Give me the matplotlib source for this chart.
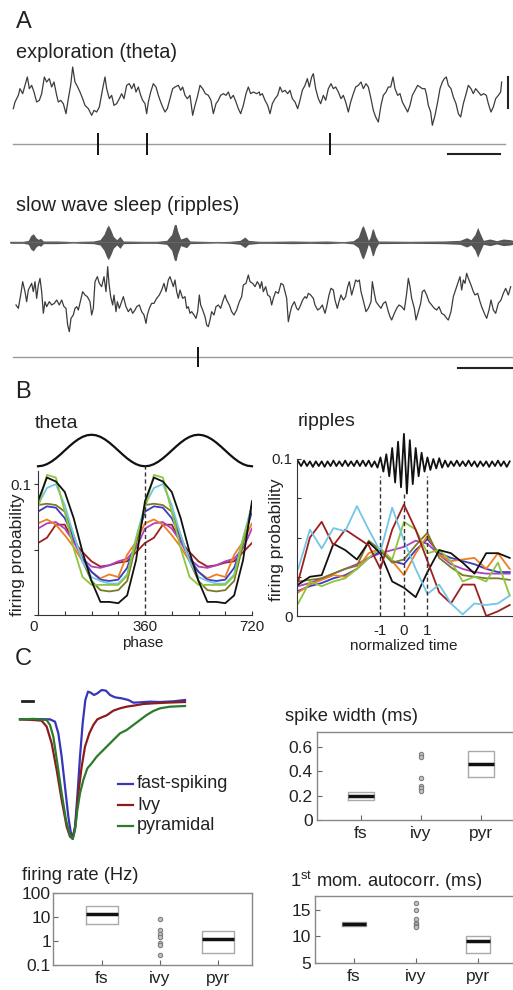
import numpy as np
import matplotlib
matplotlib.use("Agg")
import matplotlib.pyplot as plt

plt.rcParams['font.family'] = ['Liberation Sans', 'DejaVu Sans']
plt.rcParams['mathtext.default'] = 'regular'
TXT = '#222222'

# ===================== DATA =====================
# ---- Panel A: exploration LFP (sample, inverted amplitude reading) ----
explore_seg1 = [(10,140),(15,120),(25,100),(30,80),(38,95),(45,70),(52,45),(58,80),(65,70),(72,90),(80,120),(88,115),(95,95),(103,45),(110,60),(118,50),(125,75),(132,60),(140,100),(145,120),(152,115),(160,125),(168,155),(175,110),(182,70),(188,15),(195,60),(203,75),(210,90),(218,110),(225,130),(235,140),(245,160),(252,145),(260,150),(268,135),(278,80),(285,45),(290,80),(298,110),(305,100),(312,130),(320,125),(328,110),(335,95),(342,110),(350,70),(358,65),(365,80),(372,65),(378,90),(385,75),(392,100),(398,115),(405,125),(410,155),(415,120),(422,90),(430,65),(438,75),(445,100),(452,120),(458,135),(465,150),(472,140),(480,110),(488,80),(495,75),(505,70),(512,85),(518,75),(525,100),(532,110),(540,100),(548,160),(555,130),(562,105),(570,70),(578,80),(586,95),(595,100),(603,115),(610,155),(618,125),(625,115),(632,100),(640,95),(648,100),(655,90),(662,110),(670,100),(678,120),(685,140),(692,155),(700,130),(708,95),(715,75),(722,95),(730,90),(740,95),(748,90)]
explore_seg2 = [(15,100),(22,95),(30,115),(38,130),(45,155),(52,125),(60,110),(68,100),(75,75),(82,90),(90,85),(98,95),(105,85),(112,110),(120,120),(128,140),(135,115),(142,85),(150,70),(157,50),(163,75),(170,45),(175,35),(182,80),(190,110),(197,125),(205,100),(212,115),(220,80),(228,65),(235,80),(242,75),(250,90),(258,110),(265,100),(272,120),(280,150),(287,120),(295,95),(302,75),(310,70),(318,60),(325,80),(333,65),(340,75),(348,110),(355,145),(362,165),(370,180),(378,130),(385,100),(393,90),(400,75),(407,75),(414,45),(420,80),(428,100),(435,95),(442,120),(450,135),(458,150),(465,130),(472,100),(480,85),(488,70),(495,75),(502,80),(510,80),(515,100),(520,130),(527,150),(532,190),(540,160),(548,120),(555,80),(562,60),(568,50),(574,45),(580,70),(588,80),(595,105),(603,125),(610,155),(617,165),(625,125),(632,100),(640,70),(648,80),(655,95),(662,80),(670,90),(678,100),(686,95),(694,100),(700,125),(708,150),(715,135),(722,110),(730,100),(737,90),(740,60)]
SEG2_OFFSET = 735
explore_spikes = [264, 411, 960]

# ---- Panel A: sleep, ripple-band envelope and wideband LFP ----
ripple_env_seg1 = [(0,3),(40,3),(55,6),(62,20),(70,26),(78,14),(85,9),(92,12),(100,4),(140,4),(170,3),(190,2),(210,3),(250,4),(270,8),(282,24),(290,44),(295,52),(302,38),(310,18),(320,8),(330,18),(340,4),(400,3),(440,3),(470,6),(485,24),(492,50),(497,60),(503,34),(512,10),(530,16),(540,4),(580,3),(620,2),(660,3),(690,6),(705,16),(715,6),(748,3)]
ripple_env_seg2 = [(45,3),(115,4),(165,3),(215,4),(265,2),(295,5),(310,16),(320,45),(325,50),(333,28),(340,6),(345,14),(352,40),(355,40),(362,18),(370,4),(465,3),(565,4),(615,6),(635,14),(648,8),(660,24),(668,45),(675,28),(685,6),(705,10),(725,5),(745,10),(765,8),(774,6)]
sleep_wide_seg1 = [(18,240),(25,250),(32,210),(38,170),(45,200),(50,230),(55,195),(60,185),(65,175),(70,200),(75,170),(80,220),(85,180),(90,160),(95,200),(100,265),(105,230),(110,245),(118,230),(125,240),(133,235),(140,225),(148,240),(155,225),(162,245),(168,250),(173,300),(178,320),(183,280),(190,270),(195,250),(200,245),(205,255),(212,225),(218,200),(225,210),(232,215),(240,230),(245,270),(250,250),(255,170),(262,155),(268,175),(275,185),(282,155),(288,200),(293,125),(297,175),(302,215),(308,240),(312,210),(318,260),(322,230),(328,250),(335,230),(340,215),(348,245),(355,260),(362,250),(368,265),(375,255),(380,245),(388,240),(395,260),(402,270),(408,295),(412,270),(418,250),(425,235),(432,235),(440,220),(448,210),(455,195),(462,175),(468,200),(475,165),(480,155),(485,170),(490,185),(495,165),(500,200),(505,220),(510,195),(518,220),(525,215),(530,250),(535,245),(540,265),(545,260),(552,270),(558,280),(563,260),(568,210),(572,240),(578,255),(585,275),(590,300),(595,305),(600,285),(605,260),(612,270),(618,245),(625,240),(632,250),(638,230),(645,210),(650,225),(658,240),(665,260),(672,270),(680,255),(688,230),(695,215),(700,180),(708,175),(715,150),(720,170),(728,175),(735,185),(742,170),(748,180)]
sleep_wide_seg2 = [(15,190),(20,170),(25,200),(32,185),(38,210),(45,215),(50,240),(55,220),(62,200),(70,205),(78,175),(85,180),(90,200),(95,220),(100,290),(105,265),(110,245),(118,230),(125,250),(130,255),(137,240),(143,225),(150,215),(155,220),(160,205),(167,210),(175,220),(180,240),(188,255),(195,250),(202,240),(210,265),(215,245),(222,210),(228,190),(235,195),(240,225),(247,250),(252,230),(258,210),(265,225),(272,215),(278,185),(283,170),(290,210),(297,185),(302,165),(308,170),(313,165),(318,200),(322,215),(328,240),(333,260),(340,250),(348,230),(352,170),(358,205),(363,230),(370,240),(378,250),(385,235),(392,230),(400,260),(405,275),(410,285),(418,265),(425,250),(432,240),(440,245),(448,255),(455,205),(460,160),(465,185),(470,220),(478,250),(483,285),(490,260),(497,235),(502,200),(508,195),(515,210),(522,230),(530,240),(538,250),(545,255),(552,245),(560,265),(568,270),(575,280),(580,285),(588,260),(595,215),(600,200),(605,185),(610,170),(615,155),(620,195),(625,165),(630,175),(635,145),(640,160),(648,180),(655,200),(660,210),(668,205),(675,230),(680,245),(688,265),(695,280),(702,255),(708,225),(715,255),(722,265),(730,235),(738,225),(745,205),(752,190),(760,210),(767,185)]
sleep_spikes = [564]

# ---- Panel B: theta phase (one cycle, deg) and firing probabilities ----
theta_phase = [0, 30, 60, 90, 120, 150, 180, 210, 240, 270, 300, 330]
theta_black   = [0.087, 0.105, 0.102, 0.094, 0.074, 0.048, 0.026, 0.010, 0.010, 0.009, 0.015, 0.042]
theta_green   = [0.082, 0.107, 0.105, 0.079, 0.051, 0.029, 0.023, 0.023, 0.023, 0.023, 0.030, 0.058]
theta_cyan    = [0.084, 0.097, 0.100, 0.084, 0.061, 0.041, 0.029, 0.026, 0.024, 0.024, 0.031, 0.059]
theta_olive   = [0.084, 0.085, 0.084, 0.079, 0.061, 0.041, 0.026, 0.019, 0.018, 0.019, 0.026, 0.054]
theta_blue    = [0.079, 0.083, 0.082, 0.074, 0.059, 0.043, 0.033, 0.027, 0.026, 0.027, 0.036, 0.056]
theta_orange  = [0.070, 0.073, 0.069, 0.061, 0.052, 0.041, 0.033, 0.028, 0.031, 0.029, 0.046, 0.056]
theta_magenta = [0.066, 0.070, 0.071, 0.066, 0.056, 0.043, 0.037, 0.036, 0.038, 0.041, 0.043, 0.051]
theta_darkred = [0.055, 0.059, 0.069, 0.069, 0.056, 0.048, 0.041, 0.037, 0.038, 0.040, 0.041, 0.048]
theta_lfp_phase = [0, 15, 30, 45, 60, 75, 90, 105, 120, 135, 150, 165, 180, 195, 210, 225, 240, 255, 270, 285, 300, 315, 330, 345]
theta_lfp = [-1.0, -0.966, -0.866, -0.707, -0.5, -0.259, 0.0, 0.259, 0.5, 0.707, 0.866, 0.966,
             1.0, 0.966, 0.866, 0.707, 0.5, 0.259, 0.0, -0.259, -0.5, -0.707, -0.866, -0.966]

# ---- Panel B: ripples (normalized time) ----
ripple_time = [-4.5, -4.0, -3.5, -3.0, -2.5, -2.0, -1.5, -1.0, -0.5, 0.0, 0.5, 1.0, 1.5, 2.0, 2.5, 3.0, 3.5, 4.0, 4.5]
ripple_cyan    = [0.030, 0.055, 0.043, 0.056, 0.054, 0.070, 0.055, 0.041, 0.069, 0.048, 0.030, 0.014, 0.020, 0.008, 0.001, 0.008, 0.007, 0.008, 0.013]
ripple_darkred = [0.022, 0.050, 0.060, 0.045, 0.055, 0.050, 0.045, 0.030, 0.055, 0.071, 0.055, 0.035, 0.015, 0.008, 0.020, 0.020, 0.000, 0.003, 0.007]
ripple_black   = [0.020, 0.025, 0.026, 0.046, 0.042, 0.036, 0.047, 0.040, 0.022, 0.018, 0.012, 0.028, 0.042, 0.040, 0.034, 0.027, 0.040, 0.040, 0.037]
ripple_olive   = [0.022, 0.023, 0.024, 0.027, 0.030, 0.032, 0.048, 0.042, 0.034, 0.036, 0.045, 0.053, 0.037, 0.031, 0.026, 0.025, 0.024, 0.024, 0.023]
ripple_green   = [0.008, 0.022, 0.019, 0.022, 0.024, 0.030, 0.037, 0.043, 0.036, 0.060, 0.055, 0.040, 0.042, 0.035, 0.022, 0.025, 0.022, 0.034, 0.013]
ripple_orange  = [0.015, 0.020, 0.023, 0.026, 0.025, 0.030, 0.040, 0.043, 0.035, 0.026, 0.040, 0.051, 0.039, 0.035, 0.036, 0.037, 0.030, 0.040, 0.030]
ripple_blue    = [0.016, 0.019, 0.021, 0.024, 0.026, 0.030, 0.037, 0.041, 0.035, 0.033, 0.042, 0.049, 0.040, 0.037, 0.035, 0.033, 0.030, 0.028, 0.028]
ripple_magenta = [0.019, 0.021, 0.024, 0.027, 0.030, 0.033, 0.037, 0.040, 0.042, 0.044, 0.048, 0.046, 0.039, 0.033, 0.030, 0.028, 0.027, 0.027, 0.027]
ripple_lfp_dev = [1.5,-1.5,2,-1.5,1.5,-2,1.5,-1.5,1.5,-2,1.5,-1.5,2,-1.5,1.5,-1.5,2,-1.5,1.5,-1.5,2,
                  -1.5,2,-1.5,2,-2,1.5,-2.5,
                  4,-5,6,-8,10,-12,14,-15,19,-19,15,-13,10,-8,7,-5,4,
                  -4,3,-3,3.5,-2.5,2,
                  -2,1.5,-1.5,2,-1.5,1.5,-1.5,2,-1.5,1.5,-2,1.5,-1.5,1.5,-2,1.5,-1.5,2,-1.5,1.5,-2,1.5]  # x 0.001
ripple_lfp_level = 0.097

# ---- Panel C: waveforms (sample, inverted amplitude reading) ----
wave_fs  = [(60,118),(100,117),(150,118),(165,125),(175,160),(185,230),(195,320),(205,410),(212,455),(218,475),(225,440),(232,350),(240,230),(248,130),(256,60),(264,35),(272,38),(282,45),(292,40),(305,30),(318,32),(330,45),(345,52),(365,55),(385,60),(400,68),(420,67),(450,65),(480,66),(520,64),(555,60)]
wave_ivy = [(60,118),(100,120),(125,122),(140,140),(155,190),(170,270),(185,360),(200,440),(210,470),(218,475),(226,440),(235,340),(245,260),(255,200),(268,160),(280,135),(292,118),(305,112),(320,106),(340,92),(360,85),(380,80),(400,77),(430,72),(460,70),(500,68),(555,66)]
wave_pyr = [(60,118),(100,117),(140,120),(150,135),(160,170),(172,250),(185,340),(198,420),(210,465),(218,478),(225,450),(232,390),(240,340),(250,300),(262,265),(275,250),(290,230),(305,215),(320,200),(340,180),(360,160),(380,150),(400,135),(420,120),(440,105),(460,93),(480,85),(510,80),(555,78)]
wave_labels = ['fast-spiking', 'Ivy', 'pyramidal']

# ---- Panel C: summary statistics ----
categories = ['fs', 'ivy', 'pyr']
width_fs_box  = (0.165, 0.195, 0.230)   # q1, median, q3
width_pyr_box = (0.350, 0.458, 0.565)
width_ivy_pts = [0.540, 0.518, 0.346, 0.278, 0.259, 0.240]
rate_fs_box   = (5.1, 13.3, 29.4)
rate_pyr_box  = (0.31, 1.17, 2.7)
rate_ivy_pts  = [8.5, 2.9, 1.9, 1.4, 0.8, 0.7, 0.26]
acorr_fs_box  = (11.9, 12.4, 12.8)
acorr_pyr_box = (6.9, 9.06, 10.1)
acorr_ivy_pts = [16.2, 15.0, 13.3, 12.6, 12.3, 12.0, 11.7]

# ===================== FIGURE =====================
W, H = 513, 990
fig = plt.figure(figsize=(W / 100, H / 100), dpi=100)


def add_ax(x0, y0, x1, y1):
    return fig.add_axes([x0 / W, 1 - y1 / H, (x1 - x0) / W, (y1 - y0) / H])


def ftext(x, y, s, **kw):
    kw.setdefault('color', TXT)
    fig.text(x / W, 1 - y / H, s, **kw)


def unzip(pairs, offset=0):
    t = np.array([p[0] for p in pairs], float) + offset
    v = np.array([p[1] for p in pairs], float)
    return t, v


overlay = fig.add_axes([0, 0, 1, 1])
overlay.set_xlim(0, W)
overlay.set_ylim(H, 0)
overlay.axis('off')

# ---------- Panel A ----------
ftext(16, 28, 'A', fontsize=17)
ftext(16, 58, 'exploration (theta)', fontsize=14.3)
ax = add_ax(10, 62, 513, 132)
t1, v1 = unzip(explore_seg1)
t2, v2 = unzip(explore_seg2, SEG2_OFFSET)
ax.plot(np.concatenate([t1, t2]), np.concatenate([v1, v2]), color='#3c3c3c', lw=0.9)
ax.set_xlim(0, 1509)
ax.set_ylim(210, 0)
ax.axis('off')

ax = add_ax(10, 133, 513, 155)
ax.plot([9, 1485], [0.5, 0.5], color='#9a9a9a', lw=1.0)
ax.vlines(explore_spikes, 0, 1, color='#111111', lw=1.4)
ax.set_xlim(0, 1509)
ax.set_ylim(0, 1)
ax.axis('off')
overlay.plot([508, 508], [77, 108], color='#222222', lw=1.5)
overlay.plot([448, 500], [154, 154], color='#222222', lw=1.5)

ftext(16, 211, 'slow wave sleep (ripples)', fontsize=14.3)
ax = add_ax(10, 225, 513, 260)
te1, e1 = unzip(ripple_env_seg1)
te2, e2 = unzip(ripple_env_seg2, SEG2_OFFSET)
te = np.concatenate([te1, te2])
env = np.concatenate([e1, e2])
ax.fill_between(te, -env, env, color='#555555', lw=0)
ax.plot(te, np.zeros_like(te), color='#666666', lw=0.8)
ax.set_xlim(0, 1509)
ax.set_ylim(-53, 52)
ax.axis('off')

ax = add_ax(10, 262, 513, 340)
tw1, w1 = unzip(sleep_wide_seg1)
tw2, w2 = unzip(sleep_wide_seg2, SEG2_OFFSET)
ax.plot(np.concatenate([tw1, tw2]), np.concatenate([w1, w2]), color='#3c3c3c', lw=0.9)
ax.set_xlim(0, 1509)
ax.set_ylim(345, 111)
ax.axis('off')

ax = add_ax(10, 347, 513, 367)
ax.plot([9, 1509], [0.5, 0.5], color='#9a9a9a', lw=1.0)
ax.vlines(sleep_spikes, 0, 1, color='#111111', lw=1.4)
ax.set_xlim(0, 1509)
ax.set_ylim(0, 1)
ax.axis('off')
overlay.plot([458, 513], [368, 368], color='#222222', lw=1.5)

# ---------- Panel B ----------
ftext(15, 398, 'B', fontsize=17)
ftext(35, 428, 'theta', fontsize=14)
ftext(298, 426, 'ripples', fontsize=14)

# theta reference wave
ax = add_ax(38, 430, 252, 471)
ph_l = list(theta_lfp_phase) + [p + 360 for p in theta_lfp_phase] + [720]
lfp_l = list(theta_lfp) + list(theta_lfp) + [theta_lfp[0]]
ax.plot(ph_l, lfp_l, color='#111111', lw=1.6, clip_on=False)
ax.set_xlim(0, 720)
ax.set_ylim(-1.3, 1.3)
ax.axis('off')

ax = add_ax(38, 471, 252, 615)
ph2 = list(theta_phase) + [p + 360 for p in theta_phase] + [720]
theta_series = [theta_darkred, theta_magenta, theta_orange, theta_blue, theta_olive,
                theta_cyan, theta_green, theta_black]
theta_colors = ['#9e1f1f', '#b040c0', '#f07d1e', '#3b3bc4', '#7b7b26', '#72c7e7', '#8cc63e', '#111111']
for ser, col in zip(theta_series, theta_colors):
    vals = list(ser) + list(ser) + [ser[0]]
    ax.plot(ph2, vals, color=col, lw=1.3)
ax.axvline(360, ymin=0, ymax=1.035, color='#333333', lw=1.0, ls=(0, (3, 2)), clip_on=False)
ax.set_xlim(0, 720)
ax.set_ylim(0, 0.11)
for s in ['top', 'right']:
    ax.spines[s].set_visible(False)
for s in ['left', 'bottom']:
    ax.spines[s].set_color('#333333')
ax.set_xticks([0, 90, 180, 270, 360, 450, 540, 630, 720])
ax.set_xticklabels(['0', '', '', '', '360', '', '', '', '720'])
ax.tick_params(axis='x', direction='in', length=3, pad=3.5, labelsize=10.8, colors='#333333', labelcolor=TXT)
ax.get_xticklabels()[0].set_ha('right')
ax.set_yticks([0, 0.05, 0.1])
ax.set_yticklabels(['', '', '0.1'])
ax.tick_params(axis='y', direction='out', length=3, pad=1.5, labelsize=10.8, colors='#333333', labelcolor=TXT)
ftext(143, 647, 'phase', fontsize=11, ha='center')
ftext(18, 555, 'firing probability', fontsize=12.6, rotation=90, ha='center', va='center')

# ripples
ax = add_ax(297, 459, 513, 616)
rip_series = [ripple_magenta, ripple_blue, ripple_orange, ripple_olive, ripple_green,
              ripple_black, ripple_darkred, ripple_cyan]
rip_colors = ['#b040c0', '#3b3bc4', '#f07d1e', '#7b7b26', '#8cc63e', '#111111', '#9e1f1f', '#72c7e7']
for ser, col in zip(rip_series, rip_colors):
    ax.plot(ripple_time, ser, color=col, lw=1.3)
lfp_t = np.arange(-4.5, 4.5001, 0.125)
ax.plot(lfp_t, ripple_lfp_level + np.array(ripple_lfp_dev) * 0.001, color='#111111', lw=1.3, clip_on=False)
ax.vlines([-1, 1], 0, 0.089, color='#333333', lw=1.0, linestyles=[(0, (3, 2))])
ax.vlines([0], 0, 0.078, color='#333333', lw=1.0, linestyles=[(0, (3, 2))])
ax.set_xlim(-4.55, 4.64)
ax.set_ylim(0, 0.1)
for s in ['top', 'right']:
    ax.spines[s].set_visible(False)
for s in ['left', 'bottom']:
    ax.spines[s].set_color('#333333')
ax.set_xticks([-1, 0, 1])
ax.set_xticklabels(['-1', '0', '1'])
ax.tick_params(axis='x', length=0, pad=6, labelsize=10.8, labelcolor=TXT)
ax.set_yticks([0, 0.025, 0.05, 0.075, 0.1])
ax.set_yticklabels(['0', '', '', '', '0.1'])
ax.tick_params(axis='y', direction='in', length=3, pad=3, labelsize=10.8, colors='#333333', labelcolor=TXT)
ftext(404, 650, 'normalized time', fontsize=11, ha='center')
ftext(277, 540, 'firing probability', fontsize=12.6, rotation=90, ha='center', va='center')

# ---------- Panel C ----------
ftext(15, 665, 'C', fontsize=17)
ax = add_ax(0, 680, 260, 840)
wave_colors = ['#3636b8', '#8b1c1c', '#2d7a2d']
for wv, col in zip([wave_fs, wave_ivy, wave_pyr], wave_colors):
    tt, vv = unzip(wv)
    ax.plot(tt, vv, color=col, lw=1.6)
ax.set_xlim(0, 780)
ax.set_ylim(480, 0)
ax.axis('off')
overlay.plot([22, 33], [701, 701], color='#222222', lw=2)
for i, (lab, col) in enumerate(zip(wave_labels, wave_colors)):
    y = 784 + i * 21
    overlay.plot([118, 133], [y, y], color=col, lw=1.6)
    overlay.text(137, y, lab, fontsize=13, va='center', ha='left', color=TXT)


def box_panel(ax, fs_box, pyr_box, ivy_pts, widths):
    stats = []
    for b in (fs_box, pyr_box):
        stats.append(dict(q1=b[0], med=b[1], q3=b[2], whislo=b[0], whishi=b[2], fliers=[]))
    ax.bxp(stats, positions=[0, 2], widths=widths, showcaps=False, showfliers=False,
           patch_artist=False,
           boxprops=dict(color='#aaaaaa', lw=1.0),
           whiskerprops=dict(color='#aaaaaa', lw=0),
           medianprops=dict(color='#111111', lw=2.5))
    ax.plot([1] * len(ivy_pts), ivy_pts, 'o', ms=3.2, mfc='#c0c0c0', mec='#777777', mew=0.7, ls='none')
    for s in ax.spines.values():
        s.set_color('#888888')
        s.set_linewidth(1.0)
    ax.set_xticks([0, 1, 2])
    ax.set_xticklabels(categories)
    ax.tick_params(axis='both', direction='in', length=3.5, colors='#666666', labelcolor=TXT, labelsize=12.5)
    ax.tick_params(axis='x', pad=4)


# spike width
ax = add_ax(317, 732, 540, 820)
box_panel(ax, width_fs_box, width_pyr_box, width_ivy_pts, 0.42)
ax.set_xlim(-0.73, 2.98)
ax.set_ylim(0, 0.72)
ax.set_yticks([0, 0.2, 0.4, 0.6])
ax.set_yticklabels(['0', '0.2', '0.4', '0.6'])
ax.tick_params(axis='y', pad=3)
ftext(285, 721, 'spike width (ms)', fontsize=13.2)

# firing rate
ax = add_ax(53, 893, 252, 965)
ax.set_yscale('log')
box_panel(ax, rate_fs_box, rate_pyr_box, rate_ivy_pts, 0.55)
ax.set_xlim(-0.835, 2.58)
ax.set_ylim(0.1, 100)
ax.set_yticks([0.1, 1, 10, 100])
ax.set_yticklabels(['0.1', '1', '10', '100'])
ax.minorticks_off()
ax.tick_params(axis='y', pad=1.5)
ftext(22, 880, 'firing rate (Hz)', fontsize=13.2)

# autocorr
ax = add_ax(315, 896, 540, 963)
box_panel(ax, acorr_fs_box, acorr_pyr_box, acorr_ivy_pts, 0.4)
ax.set_xlim(-0.63, 3.0)
ax.set_ylim(5, 17.6)
ax.set_yticks([5, 10, 15])
ax.set_yticklabels(['5', '10', '15'])
ax.tick_params(axis='y', pad=3)
ftext(290, 887, '1$^{st}$ mom. autocorr. (ms)', fontsize=13.2)

fig.savefig('out.png', dpi=100)
